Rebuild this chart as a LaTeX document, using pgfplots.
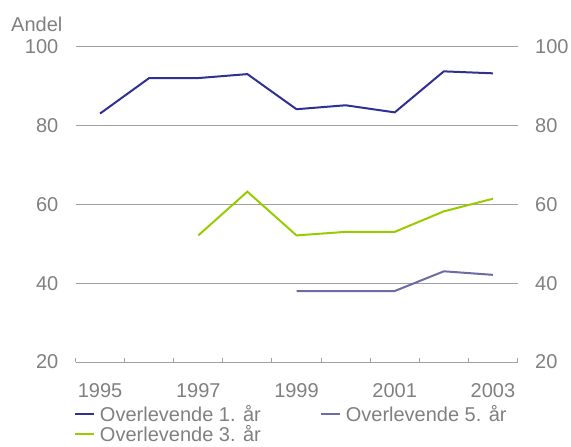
\documentclass[border=0pt]{standalone}
\usepackage{fontspec}
\setmainfont{Liberation Sans}
\usepackage{pgfplots}
\pgfplotsset{compat=1.18}
\definecolor{c1}{HTML}{2E3192}
\definecolor{c5}{HTML}{6B6BA6}
\definecolor{c3}{HTML}{99CC00}
\definecolor{txt}{HTML}{808080}
\definecolor{gridc}{HTML}{A0A0A0}
\begin{document}
\fontsize{20bp}{24bp}\selectfont
\begin{tikzpicture}
\path[use as bounding box] (0,0) rectangle (571bp,-447bp);
\pgfplotsset{common/.style={
  at={(75.5bp,-362bp)}, anchor=south west,
  scale only axis, width=442bp, height=315.5bp,
  xmin=1994.5, xmax=2003.5, ymin=20, ymax=100,
  ytick={20,40,60,80,100},
  /pgf/number format/assume math mode=true,
  tick label style={font=\fontsize{20bp}{24bp}\selectfont, text=txt, inner sep=0pt},
  ytick style={draw=none},
}}
\begin{axis}[common,
  axis x line*=bottom, axis y line*=left,
  y axis line style={draw=none},
  x axis line style={draw=gridc, line width=1bp},
  ymajorgrids, grid style={draw=gridc, line width=1bp},
  xtick={1995,1997,1999,2001,2003},
  xticklabels={1995,1997,1999,2001,2003},
  major x tick style={draw=none},
  minor xtick={1994.5,1995.5,...,2003.5},
  tick align=inside,
  minor tick length=4bp,
  minor x tick style={draw=gridc, line width=1bp},
  xticklabel style={anchor=north, yshift=-21.5bp},
  yticklabel style={anchor=east, xshift=-17bp},
  legend columns=2,
  legend cell align=left,
  legend image code/.code={\draw[#1] (0bp,0bp) -- (19bp,0bp);},
  legend style={draw=none, fill=none, inner sep=0pt, outer sep=0pt,
    at={(-0.0034,-0.1426)}, anchor=north west,
    font=\fontsize{20bp}{24bp}\selectfont, text=txt,
    nodes={inner sep=0pt, text height=15bp, text depth=0bp},
    row sep=5bp,
    /tikz/every odd column/.append style={column sep=5bp},
    /tikz/every even column/.append style={column sep=59bp}},
]
\addplot[c1, line width=2bp] coordinates {
(1995,83.0) (1996,92.0) (1997,92.0) (1998,93.0) (1999,84.1) (2000,85.1) (2001,83.3) (2002,93.7) (2003,93.2)};
\addlegendentry{Overlevende 1. år}
\addplot[c5, line width=2bp] coordinates {
(1999,38.0) (2000,38.0) (2001,38.0) (2002,43.0) (2003,42.1)};
\addlegendentry{Overlevende 5. år}
\addplot[c3, line width=2bp] coordinates {
(1997,52.1) (1998,63.2) (1999,52.1) (2000,53.0) (2001,53.0) (2002,58.2) (2003,61.4)};
\addlegendentry{Overlevende 3. år}
\end{axis}
\begin{axis}[common,
  hide x axis, axis y line*=right,
  y axis line style={draw=none},
  yticklabel style={anchor=west, xshift=17.5bp},
]
\end{axis}
\node[anchor=base west, text=txt, inner sep=0pt] at (11bp,-31bp) {Andel};
\end{tikzpicture}
\end{document}
